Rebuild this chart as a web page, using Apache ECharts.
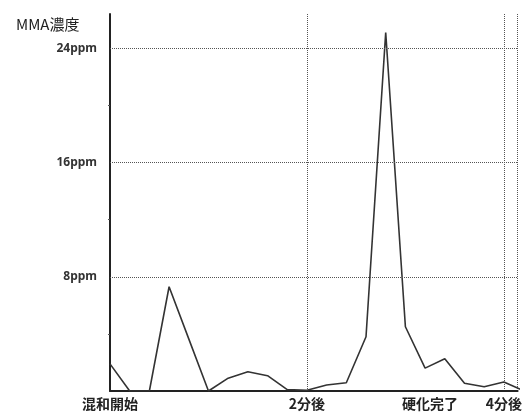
<!DOCTYPE html>
<html>
<head>
<meta charset="utf-8">
<script src="https://cdn.jsdelivr.net/npm/echarts@6/dist/echarts.min.js"></script>
<style>
  html, body { margin: 0; padding: 0; background: #fff; }
  #chart { width: 525px; height: 412px; }
</style>
</head>
<body>
<div id="chart"></div>
<script>
// 時間(分)
var times = [0, 0.2, 0.4, 0.6, 0.8, 1.0, 1.2, 1.4, 1.6, 1.8, 2.0,
             2.2, 2.4, 2.6, 2.8, 3.0, 3.2, 3.4, 3.6, 3.8, 4.0, 4.2];
// MMA濃度(ppm)
var mma = [1.9, 0, 0, 7.3, 3.65, 0, 0.9, 1.35, 1.07, 0.1, 0.05,
           0.42, 0.58, 3.8, 25.1, 4.5, 1.6, 2.26, 0.54, 0.3, 0.63, 0.03];
// x軸ラベル
var xLabelValues = [0, 2, 3.25, 4];
var xLabelTexts = ['混和開始', '2分後', '硬化完了', '4分後'];
// y軸ラベル
var yLabelValues = [8, 16, 24];

var dom = document.getElementById('chart');
var myChart = echarts.init(dom);

var seriesData = [];
for (var i = 0; i < times.length; i++) {
  seriesData.push([times[i], mma[i]]);
}

var gridLine = {
  color: '#555',
  width: 1,
  type: [1, 1]
};

var option = {
  animation: false,
  title: {
    text: 'MMA濃度',
    left: 11,
    top: 12,
    textStyle: {
      fontFamily: 'Noto Sans CJK JP',
      fontWeight: 'normal',
      fontSize: 15,
      color: '#222'
    }
  },
  grid: {
    left: 110,
    right: 0,
    top: 14,
    bottom: 21
  },
  xAxis: {
    type: 'value',
    min: 0,
    max: 4.14,
    interval: 2,
    axisLine: {
      lineStyle: { color: '#222', width: 2 }
    },
    axisTick: { show: false },
    splitLine: {
      show: true,
      lineStyle: gridLine
    },
    axisLabel: {
      customValues: xLabelValues,
      margin: 6,
      fontFamily: 'Noto Sans CJK JP',
      fontWeight: 'bold',
      fontSize: 14,
      color: '#222',
      formatter: function(v) {
        for (var k = 0; k < xLabelValues.length; k++) {
          if (Math.abs(xLabelValues[k] - v) < 0.001) return xLabelTexts[k];
        }
        return '';
      }
    }
  },
  yAxis: {
    type: 'value',
    min: 0,
    max: 26.4,
    axisLine: {
      show: true,
      lineStyle: { color: '#222', width: 2 }
    },
    axisTick: {
      show: true,
      customValues: [4, 12, 20],
      length: 2,
      lineStyle: { color: '#555' }
    },
    splitLine: { show: false },
    axisLabel: {
      customValues: yLabelValues,
      margin: 13,
      fontFamily: 'Noto Sans',
      fontWeight: 'bold',
      fontSize: 12,
      color: '#333',
      formatter: function(v) { return v + 'ppm'; }
    }
  },
  series: [{
    name: 'MMA濃度',
    type: 'line',
    data: seriesData,
    showSymbol: false,
    lineStyle: { color: '#333', width: 1.6 },
    clip: true,
    markLine: {
      silent: true,
      symbol: 'none',
      label: { show: false },
      lineStyle: gridLine,
      data: [{ yAxis: 8 }, { yAxis: 16 }, { yAxis: 24 }]
    },
    z: 3
  }]
};

myChart.setOption(option);
</script>
</body>
</html>
